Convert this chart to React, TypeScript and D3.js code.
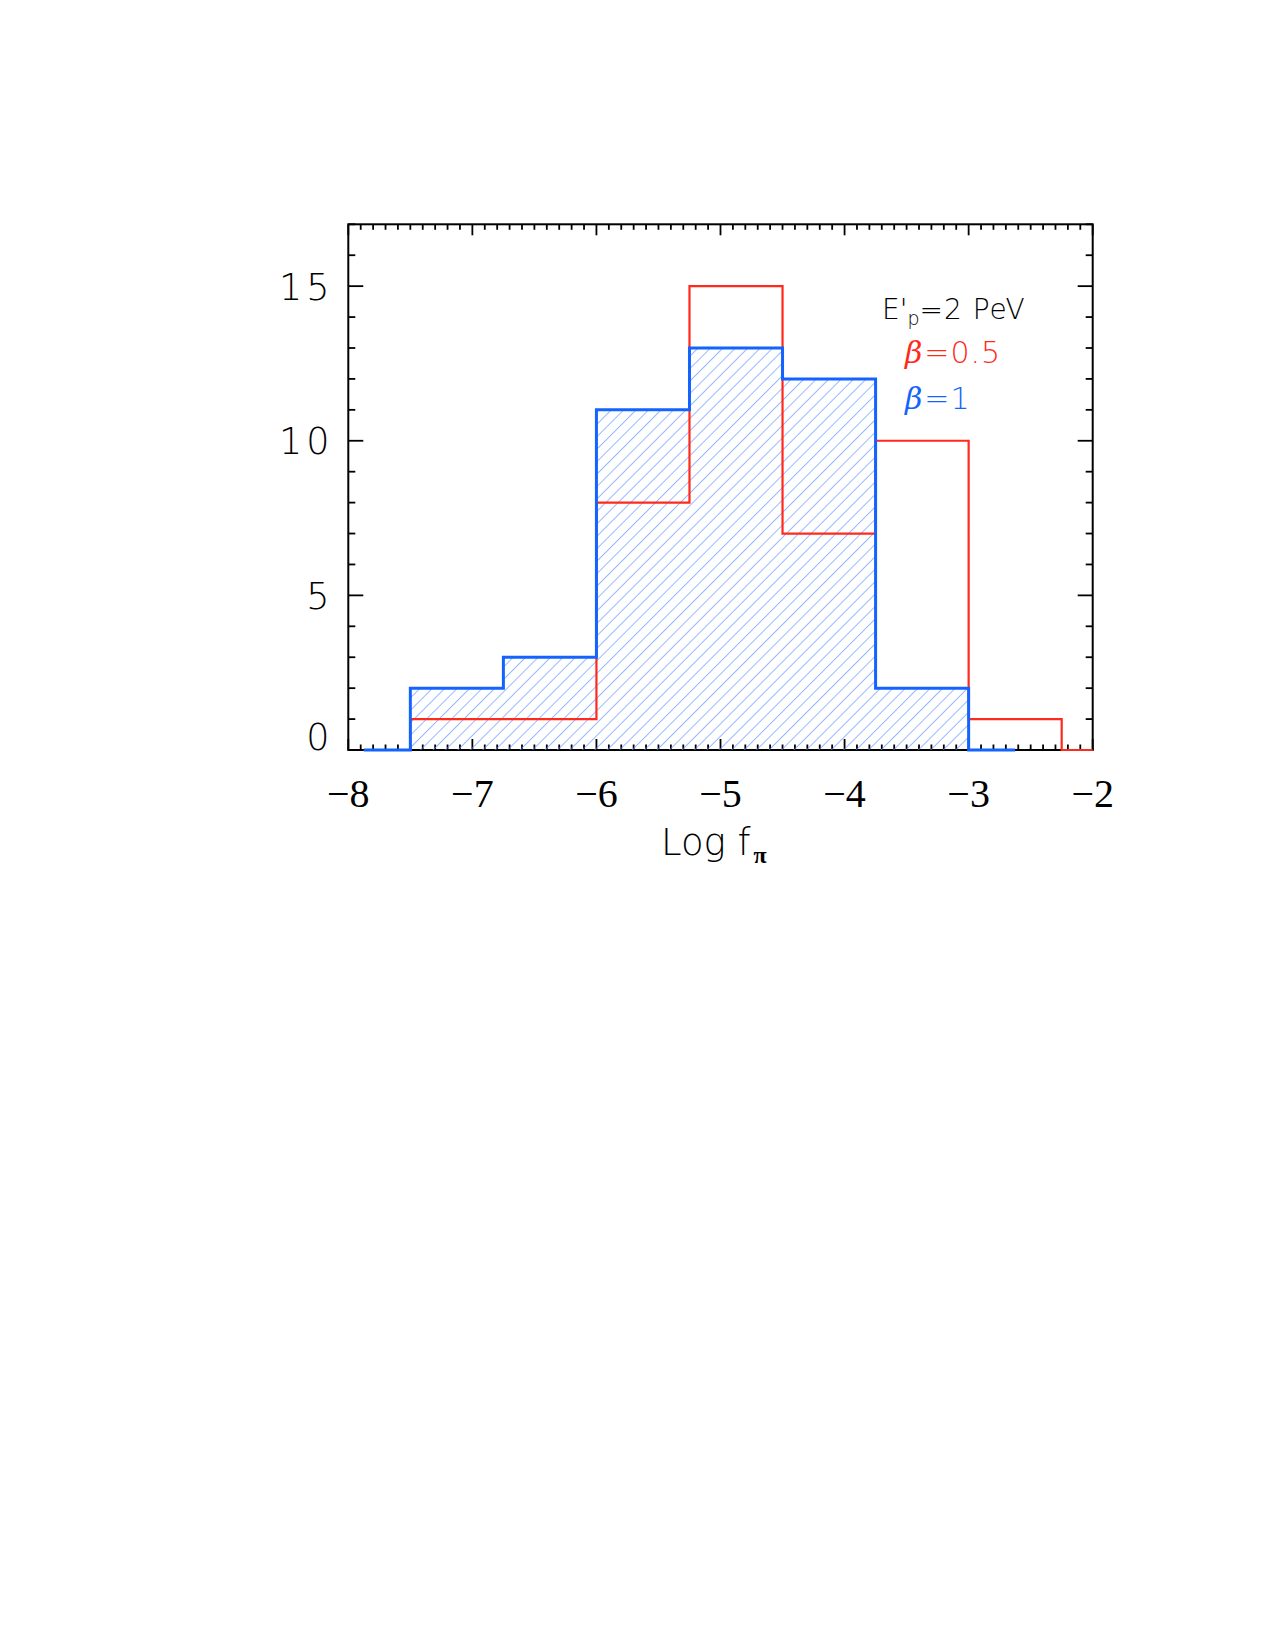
import React, { useRef, useEffect } from 'react';
import * as d3 from 'd3';

// histogram bins of log f_pi (bin width 0.75), counts per bin
const binCenters = [-7.875, -7.125, -6.375, -5.625, -4.875, -4.125, -3.375, -2.625, -1.875];
const countsBetaHalf = [0, 1, 1, 8, 15, 7, 10, 1, 0];
const countsBetaOne = [0, 2, 3, 11, 13, 12, 2, 0];

const xTicks = [-8, -7, -6, -5, -4, -3, -2];
const yTicks = [0, 5, 10, 15];

const RED = '#ff2a1c';
const BLUE = '#1463ff';
const HATCH = '#5b95ff';

const App = () => {
  const svgRef = useRef<SVGSVGElement>(null);

  useEffect(() => {
    const width = 1275;
    const height = 1650;
    const box = { left: 348.3, right: 1092.7, top: 224.3, bottom: 750 };

    const svg = d3.select(svgRef.current);
    svg.selectAll('*').remove();
    svg.attr('width', width).attr('height', height);

    const x = d3.scaleLinear().domain([-8, -2]).range([box.left, box.right]);
    const y = d3.scaleLinear().domain([0, 17]).range([box.bottom, box.top]);

    const defs = svg.append('defs');
    // clip only in x so the zero-level steps stay visible on the axis
    defs.append('clipPath')
      .attr('id', 'plot-clip')
      .append('rect')
      .attr('x', box.left)
      .attr('y', box.top - 10)
      .attr('width', box.right - box.left)
      .attr('height', box.bottom - box.top + 20);

    const hatchStep = 8.8;
    const pattern = defs.append('pattern')
      .attr('id', 'hatch')
      .attr('patternUnits', 'userSpaceOnUse')
      .attr('width', hatchStep)
      .attr('height', hatchStep)
      .attr('patternTransform', 'rotate(45)');
    pattern.append('line')
      .attr('x1', 0).attr('y1', 0)
      .attr('x2', 0).attr('y2', hatchStep)
      .attr('stroke', HATCH)
      .attr('stroke-width', 1.3);

    // frame
    svg.append('rect')
      .attr('x', box.left)
      .attr('y', box.top)
      .attr('width', box.right - box.left)
      .attr('height', box.bottom - box.top)
      .attr('fill', 'none')
      .attr('stroke', '#000')
      .attr('stroke-width', 2);

    const ticks = svg.append('g').attr('stroke', '#000').attr('stroke-width', 1.8);

    // x ticks, top and bottom: minor every 0.1
    d3.range(0, 61).forEach(i => {
      const v = -8 + i / 10;
      const len = i % 10 === 0 ? 11 : 5.5;
      ticks.append('line')
        .attr('x1', x(v)).attr('x2', x(v))
        .attr('y1', box.bottom).attr('y2', box.bottom - len);
      ticks.append('line')
        .attr('x1', x(v)).attr('x2', x(v))
        .attr('y1', box.top).attr('y2', box.top + len);
    });

    // y ticks, left and right: minor every 1
    d3.range(0, 18).forEach(v => {
      const len = v % 5 === 0 ? 15 : 7;
      ticks.append('line')
        .attr('x1', box.left).attr('x2', box.left + len)
        .attr('y1', y(v)).attr('y2', y(v));
      ticks.append('line')
        .attr('x1', box.right).attr('x2', box.right - len)
        .attr('y1', y(v)).attr('y2', y(v));
    });

    const plot = svg.append('g').attr('clip-path', 'url(#plot-clip)');

    const blueData = countsBetaOne.map((c, i) => [binCenters[i], c] as [number, number]);
    const redData = countsBetaHalf.map((c, i) => [binCenters[i], c] as [number, number]);

    // hatched area under beta = 1
    const area = d3.area<[number, number]>()
      .x(d => x(d[0]))
      .y0(y(0))
      .y1(d => y(d[1]))
      .curve(d3.curveStep);
    plot.append('path')
      .datum(blueData)
      .attr('d', area)
      .attr('fill', 'url(#hatch)');

    const line = d3.line<[number, number]>()
      .x(d => x(d[0]))
      .y(d => y(d[1]))
      .curve(d3.curveStep);

    plot.append('path')
      .datum(redData)
      .attr('d', line)
      .attr('fill', 'none')
      .attr('stroke', RED)
      .attr('stroke-width', 2.2);

    plot.append('path')
      .datum(blueData)
      .attr('d', line)
      .attr('fill', 'none')
      .attr('stroke', BLUE)
      .attr('stroke-width', 3);

    const sans = '"DejaVu Sans", sans-serif';
    const serif = '"Liberation Serif", "DejaVu Serif", serif';

    // y tick labels
    svg.append('g')
      .selectAll('text')
      .data(yTicks)
      .join('text')
      .attr('x', 333.5)
      .attr('y', d => (d === 0 ? y(0) : y(d) + 13.5))
      .attr('text-anchor', 'end')
      .style('font-family', sans)
      .style('font-weight', 200)
      .style('font-size', '36.5px')
      .style('letter-spacing', '4px')
      .attr('fill', '#000')
      .text(d => String(d));

    // x tick labels
    svg.append('g')
      .selectAll('text')
      .data(xTicks)
      .join('text')
      .attr('x', d => x(d))
      .attr('y', 807)
      .attr('text-anchor', 'middle')
      .style('font-family', serif)
      .style('font-size', '40px')
      .attr('fill', '#000')
      .text(d => `\u2212${Math.abs(d)}`);

    // axis title
    const title = svg.append('text')
      .attr('x', 661)
      .attr('y', 855)
      .style('font-family', sans)
      .style('font-weight', 200)
      .style('font-size', '37px')
      .attr('fill', '#000');
    title.append('tspan').text('Log f');
    title.append('tspan')
      .attr('dx', 3)
      .attr('dy', 8)
      .style('font-family', serif)
      .style('font-weight', 700)
      .style('font-size', '24px')
      .text('\u03c0');

    // legend
    const lab = svg.append('text')
      .attr('x', 882)
      .attr('y', 319)
      .style('font-family', sans)
      .style('font-weight', 200)
      .style('font-size', '28px')
      .attr('fill', '#000');
    lab.append('tspan').text("E'");
    lab.append('tspan')
      .attr('dy', 6)
      .style('font-size', '19px')
      .text('p');
    lab.append('tspan').attr('dy', -6).style('letter-spacing', '1px').text('=2  PeV');

    const legend = [
      { label: '=0.5', color: RED, y: 363 },
      { label: '=1', color: BLUE, y: 409 },
    ];
    legend.forEach(d => {
      const t = svg.append('text')
        .attr('x', 905)
        .attr('y', d.y)
        .attr('fill', d.color)
        .style('font-size', '30px');
      t.append('tspan')
        .style('font-family', '"DejaVu Serif", serif')
        .style('font-style', 'italic')
        .text('\u03b2');
      t.append('tspan')
        .style('font-family', sans)
        .style('font-weight', 200)
        .style('letter-spacing', '1px')
        .attr('dx', 2)
        .text(d.label);
    });
  }, []);

  return (
    <div style={{ position: 'absolute', left: 0, top: 0, background: '#fff' }}>
      <svg ref={svgRef} style={{ display: 'block' }} />
    </div>
  );
};

export default App;
